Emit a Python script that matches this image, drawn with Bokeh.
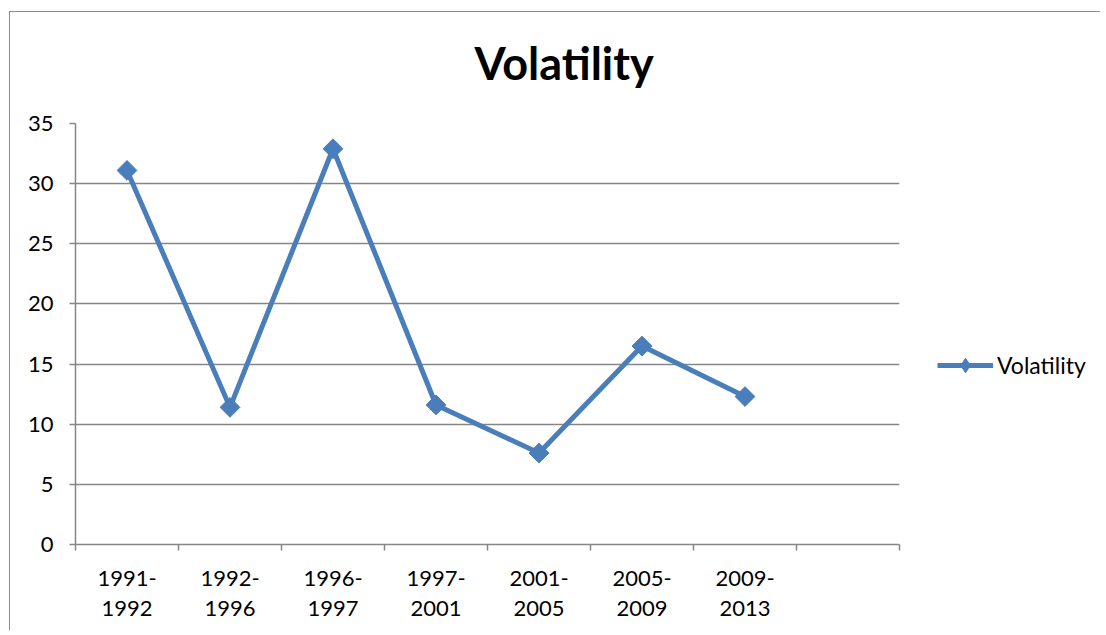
from bokeh.plotting import figure
from bokeh.models import (Range1d, FixedTicker, LinearAxis, Legend, LegendItem, Grid, Title)
from bokeh.layouts import row
from bokeh.embed import file_html
from bokeh.resources import INLINE
import math

# ---- data ----
periods = ["1991-\n1992", "1992-\n1996", "1996-\n1997", "1997-\n2001",
           "2001-\n2005", "2005-\n2009", "2009-\n2013"]
volatility = [31.1, 11.4, 32.9, 11.6, 7.6, 16.5, 12.3]
n_slots = 8  # one trailing empty category slot, as in the reference
y_ticks = [0, 5, 10, 15, 20, 25, 30, 35]
series_name = "Volatility"
title_text = "Volatility"

BLUE = "#4A7EBB"
GRID = "#868686"
BORDER = "#8c8c8c"
FONT = "Lato"

x_pos = [i + 0.5 for i in range(len(volatility))]
boundaries = list(range(n_slots + 1))

W1, W2, H = 895, 196, 630
p = figure(width=W1, height=H, output_backend="svg", toolbar_location=None,
           x_range=Range1d(0, n_slots), y_range=Range1d(0, 35),
           x_axis_location=None, y_axis_location=None, title=None,
           min_border_left=66, min_border_right=5, min_border_top=123,
           min_border_bottom=86)
p.outline_line_color = None
p.border_fill_color = None
p.background_fill_color = None
p.xgrid.visible = False
p.ygrid.visible = False

# title
p.add_layout(Title(text=title_text, align="left", offset=399, standoff=67,
                   vertical_align="bottom",
                   text_font=FONT, text_font_style="bold", text_font_size="45px",
                   text_color="black"), "above")

# y axis
yax = LinearAxis(ticker=FixedTicker(ticks=y_ticks))
yax.axis_line_color = GRID
yax.axis_line_width = 1.5
yax.major_tick_line_color = GRID
yax.major_tick_line_width = 1.5
yax.major_tick_out = 6
yax.major_tick_in = 0
yax.minor_tick_line_color = None
yax.major_label_text_font = FONT
yax.major_label_text_font_size = "22px"
yax.major_label_text_color = "black"
yax.major_label_standoff = 16
p.add_layout(yax, "left")

# grid
p.add_layout(Grid(dimension=1, ticker=FixedTicker(ticks=y_ticks),
                  grid_line_color=GRID, grid_line_width=1.5))

# x axis: boundary ticks
xax = LinearAxis(ticker=FixedTicker(ticks=boundaries))
xax.axis_line_color = GRID
xax.axis_line_width = 1.5
xax.major_tick_line_color = GRID
xax.major_tick_line_width = 1.5
xax.major_tick_out = 6
xax.major_tick_in = 0
xax.minor_tick_line_color = None
xax.major_label_text_font_size = "0px"
xax.major_label_standoff = 0
xax.major_label_overrides = {b: "" for b in boundaries}
p.add_layout(xax, "below")

# x axis: category labels at slot centres
xlab = LinearAxis(ticker=FixedTicker(ticks=x_pos))
xlab.axis_line_color = None
xlab.major_tick_line_color = None
xlab.minor_tick_line_color = None
xlab.major_label_overrides = {x: lab for x, lab in zip(x_pos, periods)}
xlab.major_label_text_font = FONT
xlab.major_label_text_font_size = "22px"
xlab.major_label_text_color = "black"
xlab.major_label_text_line_height = 1.12
xlab.major_label_standoff = 7
p.add_layout(xlab, "below")

line_r = p.line(x_pos, volatility, line_color=BLUE, line_width=5, line_join="round")
mark_r = p.scatter(x_pos, volatility, marker="square", size=14, angle=math.pi / 4,
                   fill_color=BLUE, line_color=BLUE)

# legend panel (separate canvas to the right of the plot); the series is
# re-plotted there outside the visible range so the legend has real glyphs
q = figure(width=W2, height=H, output_backend="svg", toolbar_location=None,
           x_range=Range1d(0, 1), y_range=Range1d(-10, -9),
           x_axis_location=None, y_axis_location=None,
           min_border=0)
q.outline_line_color = None
q.border_fill_color = None
q.background_fill_color = None
q.xgrid.visible = False
q.ygrid.visible = False
ql = q.line(x_pos, volatility, line_color=BLUE, line_width=5, line_join="round")
qm = q.scatter(x_pos, volatility, marker="diamond", size=17,
               fill_color=BLUE, line_color=BLUE)
legend = Legend(items=[LegendItem(label=series_name, renderers=[ql, qm])],
                location=(33, 161), padding=0, margin=0, spacing=0,
                glyph_width=56, glyph_height=36, label_standoff=4,
                border_line_color=None, background_fill_alpha=0,
                label_text_font=FONT, label_text_font_size="23px",
                label_text_color="black")
q.add_layout(legend, "center")

layout = row(p, q)
layout.styles = {
    "margin-left": "9px",
    "background-image": f"linear-gradient({BORDER},{BORDER}), linear-gradient({BORDER},{BORDER})",
    "background-size": "100% 1px, 1px 100%",
    "background-position": "0 11px, 0 11px",
    "background-repeat": "no-repeat",
}

open("out.html", "w").write(file_html(layout, INLINE))
